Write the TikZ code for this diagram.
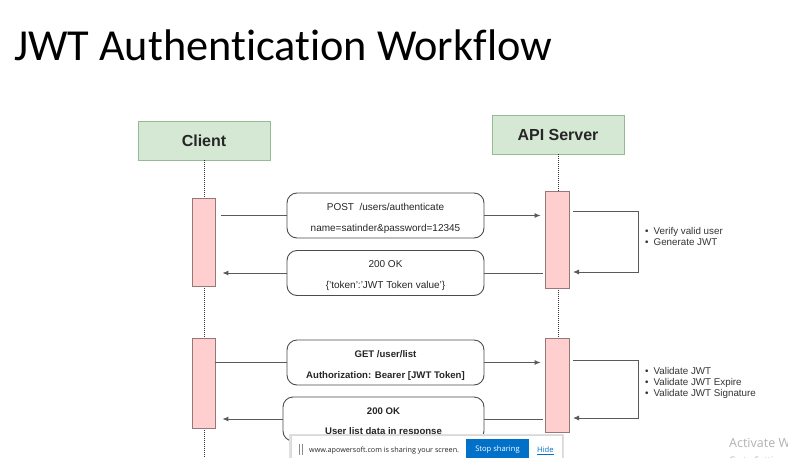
\documentclass[tikz,border=0pt]{standalone}
\usepackage{fontspec}
\setmainfont{Liberation Sans}
\newfontfamily\titlefont[Ligatures={NoCommon}]{Carlito}
\newfontfamily\uifont{Open Sans}
\usetikzlibrary{arrows.meta}
\definecolor{partfill}{RGB}{213,232,212}
\definecolor{partdraw}{RGB}{150,185,150}
\definecolor{actfill}{RGB}{255,206,206}
\definecolor{actdraw}{RGB}{150,120,120}
\definecolor{linegrey}{RGB}{90,90,90}
\definecolor{sharebtn}{RGB}{0,112,200}
% extra head room on the first line of a message box
\newcommand\msgstrut{\rule{0pt}{13pt}}
\tikzset{
  participant/.style={draw=partdraw, fill=partfill, line width=0.8pt,
    font=\fontsize{16}{18}\selectfont\bfseries, text=black!85},
  lifeline/.style={draw=black!80, line width=0.8pt, dash pattern=on 1pt off 1pt},
  actbox/.style={draw=actdraw, fill=actfill, line width=0.8pt, inner sep=0pt},
  msgbox/.style={draw=black!70, fill=white, rounded corners=10pt, line width=0.9pt,
    align=center, inner sep=0pt, font=\fontsize{10}{21}\selectfont, text=black!85},
  msgline/.style={draw=linegrey, line width=0.9pt},
  msgarrow/.style={msgline, -{Latex[length=6pt,width=5pt]}},
  notes/.style={align=left, anchor=north west, inner sep=0pt,
    font=\fontsize{9.8}{10.6}\selectfont, text=black!80},
}
\begin{document}
\begin{tikzpicture}[x=1pt,y=-1pt]
\useasboundingbox (0,0) rectangle (788,458);
\clip (0,0) rectangle (788,458);
\fill[white] (0,0) rectangle (788,458);

% title
\node[anchor=base west, inner sep=0pt, font=\titlefont\fontsize{44.3}{50}\selectfont]
  (title) at (14,60) {JWT Authentication Workflow};

% participants and their lifelines
\node[participant, minimum width=132, minimum height=39] (client) at (204,140.5) {Client};
\node[participant, minimum width=132, minimum height=39] (server) at (558,134.5) {API Server};
\coordinate (clientEnd) at (204,462);
\coordinate (serverEnd) at (558,462);
\draw[lifeline] (client.south) -- (clientEnd);
\draw[lifeline] (server.south) -- (serverEnd);

% activation bars
\node[actbox, minimum width=23, minimum height=88] (ca1) at (203.5,242) {};
\node[actbox, minimum width=23, minimum height=90] (ca2) at (203.5,383) {};
\node[actbox, minimum width=24, minimum height=97] (sa1) at (557,239.5) {};
\node[actbox, minimum width=24, minimum height=94] (sa2) at (557,385) {};

% messages
\node[msgbox, minimum width=197, minimum height=45] (post) at (385.5,215.5)
  {\msgstrut POST\ \ /users/authenticate\\name=satinder\&password=12345};
\node[msgbox, minimum width=197, minimum height=45] (tok) at (385.5,273)
  {\msgstrut 200 OK\\\{'token':'JWT Token value'\}};
\node[msgbox, minimum width=197, minimum height=45, font=\fontsize{9.6}{21}\selectfont\bfseries]
  (get) at (385.5,362.5) {\msgstrut GET /user/list\\Authorization: Bearer [JWT Token]};
\node[msgbox, minimum width=201, minimum height=44, font=\fontsize{9.6}{20}\selectfont\bfseries]
  (list) at (383.5,419) {\msgstrut 200 OK\\User list data in response};

% request / response connectors
\draw[msgline]  ([xshift=6pt]ca1.east |- post.west) -- (post.west);
\draw[msgarrow] (post.east) -- ([xshift=-4pt]sa1.west |- post.east);
\draw[msgline]  ([xshift=-2pt]sa1.west |- tok.east) -- (tok.east);
\draw[msgarrow] (tok.west) -- ([xshift=7pt]ca1.east |- tok.west);
\draw[msgline]  (ca2.east |- get.west) -- (get.west);
\draw[msgarrow] (get.east) -- ([xshift=-4pt]sa2.west |- get.east);
\draw[msgline]  ([xshift=-2pt]sa2.west |- list.east) -- (list.east);
\draw[msgarrow] (list.west) -- ([xshift=7pt]ca2.east |- list.west);

% server-side processing loops
\coordinate (l1a) at (573,211);
\coordinate (l1b) at (573,272);
\coordinate (l2a) at (573,360);
\coordinate (l2b) at (573,418);
\draw[msgarrow] (l1a) -- (638,211) |- (l1b);
\draw[msgarrow] (l2a) -- (638,360) |- (l2b);
\node[notes] (n1) at (645,227.5)
  {\textbullet\hspace{5pt}Verify valid user\\\textbullet\hspace{5pt}Generate JWT};
\node[notes] (n2) at (645,367.5)
  {\textbullet\hspace{5pt}Validate JWT\\\textbullet\hspace{5pt}Validate JWT Expire\\\textbullet\hspace{5pt}Validate JWT Signature};

% screen-sharing bar
\fill[black!12] (289,433.5) rectangle (564,462);
\node[draw=black!15, fill=white, minimum width=271, minimum height=26, inner sep=0pt]
  (bar) at (426.5,448) {};
\draw[black!45, line width=0.6pt] (299,443.5) -- (299,454.5) (302,443.5) -- (302,454.5);
\node[anchor=base west, inner sep=0pt, font=\uifont\fontsize{7.2}{9}\selectfont, text=black!85]
  (sharetxt) at (309,452.5) {www.apowersoft.com is sharing your screen.};
\node[fill=sharebtn, minimum width=63, minimum height=21, inner sep=0pt, text=white,
  font=\uifont\fontsize{7.6}{9}\selectfont] (stop) at (497.5,449.5) {Stop sharing};
\node[anchor=base west, inner sep=0pt, font=\uifont\fontsize{7.6}{9}\selectfont, text=sharebtn]
  (hide) at (537,452.5) {\underline{Hide}};

% system watermark
\node[anchor=base west, inner sep=0pt, font=\uifont\fontsize{12.5}{15}\selectfont, text=black!30]
  (act) at (729,447) {Activate W};
\node[anchor=base west, inner sep=0pt, font=\uifont\fontsize{9}{11}\selectfont, text=black!30]
  (goset) at (729,463.5) {Go to Settings};
\end{tikzpicture}
\end{document}
